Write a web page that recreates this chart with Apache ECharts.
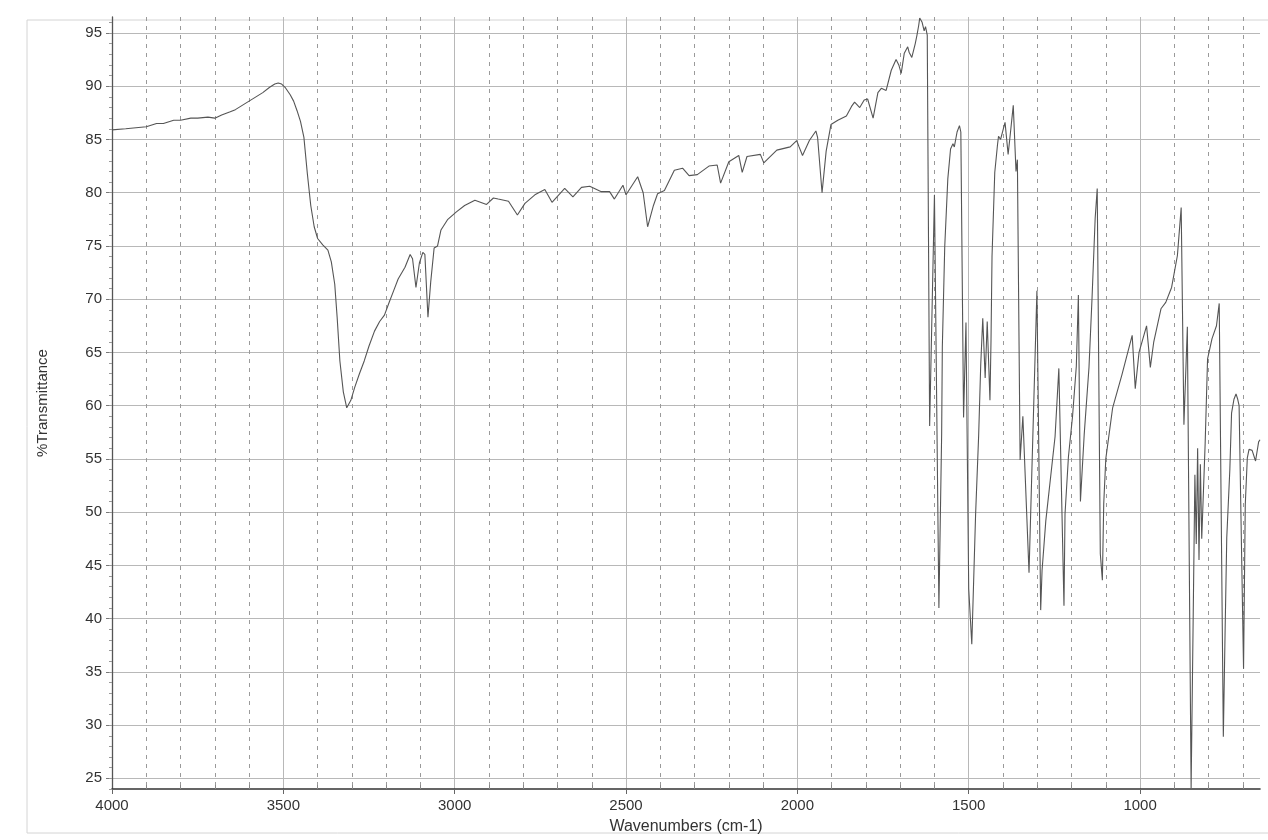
<!DOCTYPE html>
<html>
<head>
<meta charset="utf-8">
<script src="https://cdn.jsdelivr.net/npm/echarts@6/dist/echarts.min.js"></script>
<style>
html,body{margin:0;padding:0;background:#ffffff;}
#chart{width:1268px;height:840px;}
</style>
</head>
<body>
<div id="chart"></div>
<script>
// Wavenumbers (cm-1), descending
const wavenumbers = [
  4000, 3960, 3930, 3900, 3870, 3850, 3820, 3800, 3770, 3750,
  3720, 3700, 3680, 3655, 3640, 3620, 3600, 3580, 3560, 3540,
  3525, 3515, 3505, 3495, 3480, 3470, 3460, 3450, 3440, 3430,
  3420, 3410, 3400, 3385, 3370, 3360, 3350, 3343, 3335, 3325,
  3315, 3310, 3303, 3292, 3278, 3264, 3250, 3234, 3219, 3205,
  3190, 3178, 3165, 3145, 3130, 3123, 3113, 3103, 3093, 3087,
  3078, 3070, 3060, 3050, 3040, 3020, 2995, 2971, 2941, 2907,
  2887, 2873, 2843, 2817, 2795, 2766, 2737, 2716, 2679, 2655,
  2630, 2606, 2572, 2548, 2534, 2509, 2500, 2466, 2450, 2437,
  2420, 2408, 2388, 2359, 2335, 2316, 2292, 2258, 2234, 2224,
  2200, 2171, 2161, 2147, 2108, 2098, 2060, 2021, 2002, 1995,
  1985, 1965, 1946, 1941, 1928, 1916, 1902, 1882, 1857, 1842,
  1833, 1818, 1805, 1795, 1779, 1765, 1755, 1741, 1726, 1712,
  1704, 1697, 1688, 1678, 1674, 1666, 1656, 1651, 1646, 1643,
  1636, 1630, 1626, 1621, 1614, 1600, 1587, 1579, 1577, 1570,
  1561, 1553, 1546, 1542, 1534, 1527, 1523, 1515, 1508, 1500,
  1491, 1480, 1471, 1465, 1459, 1452, 1446, 1438, 1435, 1432,
  1424, 1416, 1413, 1407, 1394, 1385, 1378, 1370, 1362, 1358,
  1350, 1342, 1324, 1301, 1290, 1286, 1275, 1248, 1237, 1222,
  1219, 1209, 1197, 1186, 1180, 1174, 1163, 1149, 1140, 1131,
  1125, 1116, 1110, 1106, 1100, 1080, 1053, 1023, 1014, 1003,
  981, 970, 960, 939, 925, 908, 891, 880, 872, 862,
  851, 845, 840, 836, 832, 828, 824, 820, 810, 803,
  790, 777, 769, 757, 752, 747, 738, 733, 726, 720,
  715, 711, 698, 693, 687, 682, 673, 663, 654, 650
];
// %Transmittance at each wavenumber
const transmittance = [
  85.9, 86.0, 86.1, 86.2, 86.5, 86.5, 86.8, 86.8, 87.0, 87.0,
  87.1, 87.0, 87.3, 87.6, 87.8, 88.2, 88.6, 89.0, 89.4, 89.9,
  90.2, 90.3, 90.2, 89.9, 89.2, 88.6, 87.7, 86.7, 85.2, 81.8,
  78.8, 76.8, 75.7, 75.1, 74.6, 73.5, 71.4, 68.3, 64.2, 61.3,
  59.8, 59.7, 60.5, 61.7, 63.0, 64.2, 65.6, 67.0, 67.9, 68.5,
  69.8, 70.8, 71.9, 73.0, 74.2, 73.8, 71.1, 73.4, 74.4, 74.2,
  68.3, 71.6, 74.8, 75.0, 76.5, 77.5, 78.2, 78.8, 79.3, 78.9,
  79.5, 79.4, 79.2, 77.9, 79.0, 79.8, 80.3, 79.1, 80.4, 79.6,
  80.5, 80.6, 80.1, 80.1, 79.4, 80.7, 79.8, 81.5, 80.0, 76.8,
  78.8, 79.9, 80.2, 82.1, 82.3, 81.6, 81.7, 82.5, 82.6, 80.9,
  82.9, 83.5, 81.9, 83.4, 83.6, 82.8, 84.0, 84.3, 84.9, 84.3,
  83.5, 84.9, 85.8, 85.2, 80.0, 83.9, 86.4, 86.8, 87.2, 88.1,
  88.5, 88.0, 88.7, 88.8, 87.0, 89.4, 89.8, 89.6, 91.5, 92.5,
  92.0, 91.2, 93.1, 93.7, 93.2, 92.7, 94.0, 94.8, 95.7, 96.4,
  96.0, 95.2, 95.6, 94.8, 58.1, 79.8, 41.0, 57.3, 65.5, 74.9,
  81.3, 84.1, 84.6, 84.3, 85.7, 86.3, 85.7, 58.9, 67.8, 42.8,
  37.6, 49.7, 57.2, 63.8, 68.2, 62.6, 67.9, 60.5, 66.0, 74.0,
  81.9, 84.5, 85.3, 85.0, 86.6, 83.6, 85.7, 88.2, 82.0, 83.1,
  54.9, 59.0, 44.3, 70.8, 40.8, 44.5, 49.2, 57.1, 63.5, 41.2,
  49.8, 55.2, 59.0, 63.7, 70.4, 51.0, 57.3, 63.6, 70.2, 77.6,
  80.4, 46.1, 43.6, 50.8, 55.0, 59.8, 62.9, 66.6, 61.6, 65.0,
  67.5, 63.6, 66.0, 69.1, 69.7, 71.1, 74.1, 78.6, 58.2, 67.4,
  24.1, 40.0, 53.5, 47.0, 56.0, 45.5, 54.5, 47.5, 56.5, 64.4,
  66.3, 67.5, 69.6, 28.9, 38.5, 47.6, 54.0, 59.3, 60.6, 61.1,
  60.6, 60.0, 35.3, 50.7, 55.1, 55.9, 55.8, 54.8, 56.6, 56.8
];

// Tick / grid values
const xLabelTicks = [4000, 3500, 3000, 2500, 2000, 1500, 1000];
const xMinorLines = [3900, 3800, 3700, 3600, 3400, 3300, 3200, 3100, 2900, 2800, 2700, 2600,
  2400, 2300, 2200, 2100, 1900, 1800, 1700, 1600, 1400, 1300, 1200, 1100, 900, 800, 700];
const yLabelTicks = [25, 30, 35, 40, 45, 50, 55, 60, 65, 70, 75, 80, 85, 90, 95];
const yMinorTicks = [24, 25, 26, 27, 28, 29, 30, 31, 32, 33, 34, 35, 36, 37, 38, 39, 40, 41, 42, 43,
  44, 45, 46, 47, 48, 49, 50, 51, 52, 53, 54, 55, 56, 57, 58, 59, 60, 61, 62, 63, 64, 65, 66, 67,
  68, 69, 70, 71, 72, 73, 74, 75, 76, 77, 78, 79, 80, 81, 82, 83, 84, 85, 86, 87, 88, 89, 90, 91,
  92, 93, 94, 95, 96];

const xMin = 650, xMax = 4000, yMin = 24, yMax = 96.5;

const seriesData = wavenumbers.map((w, i) => [w, transmittance[i]]);

const font = 'Liberation Sans, Arial, sans-serif';
const chart = echarts.init(document.getElementById('chart'), null, {renderer: 'canvas'});

chart.setOption({
  animation: false,
  backgroundColor: '#ffffff',
  grid: {left: 112, right: 8, top: 17, bottom: 50},
  graphic: [{
    type: 'rect', silent: true, z: -10,
    shape: {x: 27, y: 20, width: 1262, height: 813},
    style: {fill: 'none', stroke: '#d4d4d4', lineWidth: 1}
  }],
  xAxis: [{
    type: 'value', min: xMin, max: xMax, inverse: true, position: 'bottom',
    axisLine: {show: true, onZero: false, lineStyle: {color: '#333', width: 1.6}},
    axisTick: {show: true, customValues: xLabelTicks, length: 5, lineStyle: {color: '#666'}},
    axisLabel: {show: true, customValues: xLabelTicks, color: '#333', fontSize: 15, fontFamily: font, margin: 9,
      formatter: v => String(v)},
    splitLine: {show: true, lineStyle: {color: '#b8b8b8', width: 1}},
    name: 'Wavenumbers (cm-1)', nameLocation: 'middle', nameGap: 30,
    nameTextStyle: {color: '#333', fontSize: 16, fontFamily: font}
  }, {
    type: 'value', min: xMin, max: xMax, inverse: true, position: 'bottom',
    axisLine: {show: false},
    axisTick: {show: true, inside: true, customValues: xMinorLines, length: 4, lineStyle: {color: '#888'}},
    axisLabel: {show: false},
    splitLine: {show: true, lineStyle: {color: '#9a9a9a', width: 1, type: [4, 5]}}
  }],
  yAxis: [{
    type: 'value', min: yMin, max: yMax, position: 'left',
    axisLine: {show: true, onZero: false, lineStyle: {color: '#555', width: 1.3}},
    axisTick: {show: true, customValues: yLabelTicks, length: 6, lineStyle: {color: '#777'}},
    axisLabel: {show: true, customValues: yLabelTicks, color: '#333', fontSize: 15, fontFamily: font, margin: 10,
      formatter: v => String(v)},
    splitLine: {show: true, lineStyle: {color: '#b8b8b8', width: 1}},
    name: '%Transmittance', nameLocation: 'middle', nameRotate: 90, nameGap: 62,
    nameTextStyle: {color: '#333', fontSize: 15, fontFamily: font}
  }, {
    type: 'value', min: yMin, max: yMax, position: 'left',
    axisLine: {show: false},
    axisTick: {show: true, customValues: yMinorTicks, length: 3, lineStyle: {color: '#999'}},
    axisLabel: {show: false},
    splitLine: {show: false}
  }],
  series: [{
    type: 'line',
    xAxisIndex: 0, yAxisIndex: 0,
    data: seriesData,
    showSymbol: false, symbol: 'none',
    smooth: false,
    clip: true,
    lineStyle: {color: '#555555', width: 1.1},
    z: 5
  }]
});
</script>
</body>
</html>
